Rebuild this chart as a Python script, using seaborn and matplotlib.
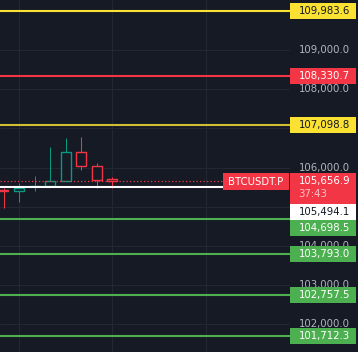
import matplotlib
matplotlib.use("Agg")
import matplotlib.pyplot as plt
from matplotlib.patches import Rectangle
from matplotlib.transforms import IdentityTransform
from matplotlib import font_manager as fm
import seaborn as sns
import numpy as np
import pandas as pd

# ---------------- data ----------------
opens  = [105429, 105395, 105518, 105523, 105651, 106390, 106033, 105702]
closes = [105403, 105487, 105531, 105651, 106390, 106033, 105691, 105656.9]
highs  = [105487, 105607, 105786, 106526, 106755, 106781, 106117, 105753]
lows   = [104977, 105130, 105411, 105523, 105651, 105946, 105487, 105487]

level_prices = [109983.6, 108330.7, 107098.8, 104698.5, 103793.0, 102757.5, 101712.3]
level_kinds  = ["yellow", "red", "yellow2", "green", "green", "green", "green"]

last_price = 105656.9
mark_price = 105494.1
symbol = "BTCUSDT.P"
countdown = "37:43"

tick_prices = [102000, 103000, 104000, 105000, 106000, 107000, 108000, 109000, 110000]
tick_labels = ["102,000.0", "103,000.0", "104,000.0", "", "106,000.0",
               "", "108,000.0", "109,000.0", ""]

# ---------------- style ----------------
BG = "#161a25"
GRID = "#232633"
UP = "#089981"
DOWN = "#f23645"
COL = {"yellow": "#fbe232", "yellow2": "#d0bf33", "red": "#f23645", "green": "#4caf50"}
BOXCOL = {"yellow": "#fbe232", "yellow2": "#fbe232", "red": "#f23645", "green": "#4caf50"}
TXTCOL = {"yellow": "#131722", "yellow2": "#131722", "red": "#ffffff", "green": "#ffffff"}

sns.set_theme(style="dark", rc={"axes.facecolor": BG, "figure.facecolor": BG})


def pick_font():
    try:
        path = fm.findfont(fm.FontProperties(family="Liberation Sans Narrow"),
                           fallback_to_default=False)
        if "narrow" in path.lower():
            return dict(family=["Liberation Sans Narrow", "DejaVu Sans"], fontsize=9.0)
    except Exception:
        pass
    try:
        path = fm.findfont(fm.FontProperties(family="DejaVu Sans", stretch="condensed"),
                           fallback_to_default=False)
        if "condensed" in path.lower():
            return dict(family=["DejaVu Sans"], fontstretch="condensed", fontsize=8.1)
    except Exception:
        pass
    return dict(family=["Liberation Sans", "DejaVu Sans"], fontsize=7.7)


FONTKW = pick_font()
plt.rcParams["font.family"] = FONTKW["family"]

W, H = 358, 352
fig = plt.figure(figsize=(W / 100, H / 100), dpi=100)
PLOT_W = 290
ax = fig.add_axes([0, 0, PLOT_W / W, 1])
ax.set_facecolor(BG)

step_px = 15.55
x0_px = 3.5
ax.set_xlim(-x0_px / step_px, (PLOT_W - x0_px) / step_px)
ymax = 109000 + 50 / 0.0392
ymin = 109000 - 302 / 0.0392
ax.set_ylim(ymin, ymax)

ax.set_xticks([1, 7, 13])
ax.set_yticks(tick_prices)
ax.grid(True, color=GRID, linewidth=0.75)
ax.tick_params(left=False, bottom=False, labelleft=False, labelbottom=False)
for s in ax.spines.values():
    s.set_visible(False)

# ---------------- candles ----------------
df = pd.DataFrame({"o": opens, "c": closes, "h": highs, "l": lows})
df["x"] = np.arange(len(df))
df["col"] = np.where(df["c"] >= df["o"], UP, DOWN)
ax.vlines(df["x"], df["l"], df["h"], colors=df["col"], linewidth=0.75, zorder=3)
bottoms = np.minimum(df["o"], df["c"])
heights = np.maximum(np.abs(df["c"] - df["o"]), 1.0)
ax.bar(df["x"], heights, bottom=bottoms, width=0.64, facecolor=BG,
       edgecolor=df["col"], linewidth=1.0, zorder=4)

# ---------------- level lines ----------------
for p, k in zip(level_prices, level_kinds):
    ax.axhline(p, color=COL[k], linewidth=1.5, zorder=5)

cut = 223 / PLOT_W
ax.axhline(mark_price, xmin=0, xmax=cut, color="#ffffff", linewidth=1.5, zorder=5)
ax.axhline(last_price, xmin=0, xmax=cut, color=DOWN, linewidth=0.9,
           linestyle=(0, (1, 1.8)), zorder=5)

fig.canvas.draw()


def ypx(p):
    return H - ax.transData.transform((0, p))[1]


def box(x0, top, w, h, fc, z=3):
    fig.add_artist(Rectangle((x0, H - top - h), w, h, transform=IdentityTransform(),
                             facecolor=fc, edgecolor="none", zorder=z))


def txt(x, y, s, color, ha="left", z=4):
    fig.text(x, H - y, s, transform=IdentityTransform(), color=color,
             ha=ha, va="center", zorder=z, **FONTKW)


# tick labels on the price scale
for p, lab in zip(tick_prices, tick_labels):
    y = ypx(p)
    if lab and 0 < y < H:
        txt(298.5, y, lab, "#b2b5be", z=2)

# price-scale labels with simple collision layout
labels = []
for p, k in zip(level_prices, level_kinds):
    labels.append(dict(p=p, fc=BOXCOL[k], tc=TXTCOL[k], h=16, extra=None))
labels.append(dict(p=last_price, fc=DOWN, tc="#ffffff", h=31, extra=countdown))
labels.append(dict(p=mark_price, fc="#ffffff", tc="#131722", h=16, extra=None))
labels.sort(key=lambda d: -d["p"])

prev_bottom = -1e9
BX0, BW = 290, 66
for d in labels:
    y = ypx(d["p"])
    top = y - 8
    if top < prev_bottom:
        top = prev_bottom
    box(BX0, top, BW, d["h"], d["fc"])
    txt(298.5, top + 8, f"{d['p']:,.1f}", d["tc"])
    if d["extra"]:
        txt(298.5, top + 21, d["extra"], "#fbc3c8")
        # symbol tag on the chart side
        box(223, top, 66, 17, DOWN)
        txt(256, top + 8.5, symbol, "#ffffff", ha="center")
    prev_bottom = top + d["h"]

fig.savefig("out.png", dpi=100, facecolor=BG)
